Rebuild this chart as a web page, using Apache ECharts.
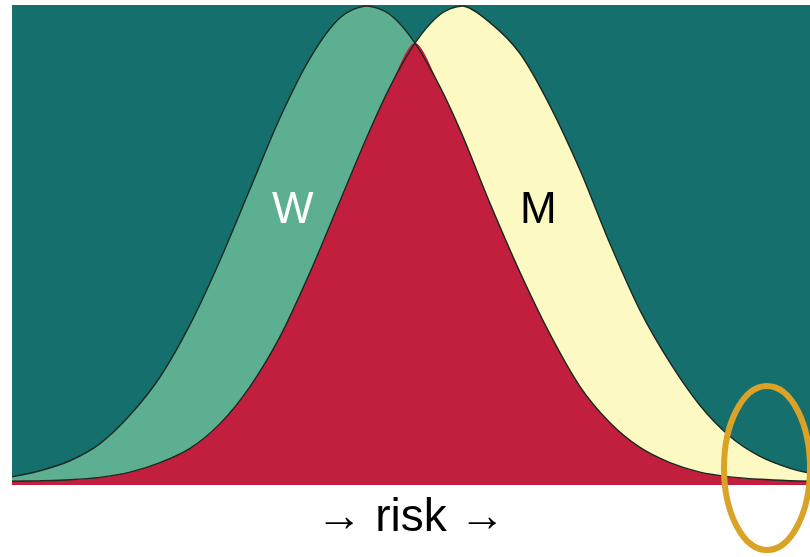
<!DOCTYPE html>
<html>
<head>
<meta charset="utf-8">
<script src="https://cdn.jsdelivr.net/npm/echarts@6/dist/echarts.min.js"></script>
<style>
  html, body { margin: 0; padding: 0; background: #ffffff; }
  #chart { width: 810px; height: 557px; }
</style>
</head>
<body>
<div id="chart"></div>
<script>
// risk positions (arbitrary units, 0..798)
const riskX = [0, 28, 58, 88, 118, 148, 178, 208, 238, 268, 298, 328, 355, 378, 403, 428, 450, 478, 508, 538, 568, 598, 628, 658, 688, 718, 748, 778, 798];

// density of the two groups (peak = 1)
const women = [0.01, 0.023, 0.044, 0.08, 0.14, 0.22, 0.33, 0.465, 0.615, 0.765, 0.89, 0.975, 1.0, 0.982, 0.922, 0.83, 0.73, 0.585, 0.44, 0.31, 0.20, 0.124, 0.072, 0.04, 0.02, 0.01, 0.005, 0.002, 0.001];
const men = [0.001, 0.002, 0.004, 0.009, 0.02, 0.04, 0.07, 0.122, 0.20, 0.305, 0.44, 0.59, 0.725, 0.83, 0.922, 0.982, 1.0, 0.965, 0.90, 0.79, 0.655, 0.50, 0.36, 0.25, 0.16, 0.095, 0.053, 0.028, 0.018];

const labels = ['W', 'M'];
const axisTitle = '→ risk →';

const pairs = (ys) => riskX.map((x, i) => [x, ys[i]]);
const overlap = riskX.map((x, i) => [x, Math.min(women[i], men[i])]);

const chart = echarts.init(document.getElementById('chart'));

const areaSeries = (name, data, color, z) => ({
  name,
  type: 'line',
  data,
  smooth: 0.3,
  symbol: 'none',
  z,
  lineStyle: { width: 0 },
  areaStyle: { color, opacity: 1, origin: 'start' }
});

const outline = (name, data) => ({
  name,
  type: 'line',
  data,
  smooth: 0.3,
  symbol: 'none',
  z: 5,
  lineStyle: { color: '#1a2a22', width: 1.4 }
});

chart.setOption({
  animation: false,
  backgroundColor: '#ffffff',
  grid: {
    left: 12, right: 0, top: 5, bottom: 72,
    outerBoundsMode: 'none',
    containLabel: false,
    show: true,
    backgroundColor: '#156f6d',
    borderWidth: 0
  },
  xAxis: {
    type: 'value',
    min: 0,
    max: 798,
    axisLine: { show: false },
    axisTick: { show: false },
    axisLabel: { show: false },
    splitLine: { show: false },
    name: axisTitle,
    nameLocation: 'middle',
    nameGap: 10,
    nameTextStyle: { fontSize: 46, color: '#000', fontFamily: 'Liberation Sans' }
  },
  yAxis: {
    type: 'value',
    min: -0.007,
    max: 1.002,
    show: false
  },
  series: [
    areaSeries(labels[0], pairs(women), '#5caf90', 2),
    areaSeries(labels[1], pairs(men), '#fcf9c2', 2),
    areaSeries('overlap', overlap, '#c11f3d', 3),
    outline(labels[0] + ' line', pairs(women)),
    outline(labels[1] + ' line', pairs(men))
  ],
  graphic: [
    {
      type: 'text', left: 272, top: 189, z: 10,
      style: { text: labels[0], fontSize: 44, fill: '#ffffff', fontFamily: 'Liberation Sans' }
    },
    {
      type: 'text', left: 520, top: 189, z: 10,
      style: { text: labels[1], fontSize: 44, fill: '#000000', fontFamily: 'Liberation Sans' }
    },
    {
      type: 'ellipse', z: 10,
      shape: { cx: 767, cy: 468, rx: 43, ry: 82 },
      style: { fill: 'none', stroke: '#daa226', lineWidth: 6 }
    }
  ]
});
</script>
</body>
</html>
